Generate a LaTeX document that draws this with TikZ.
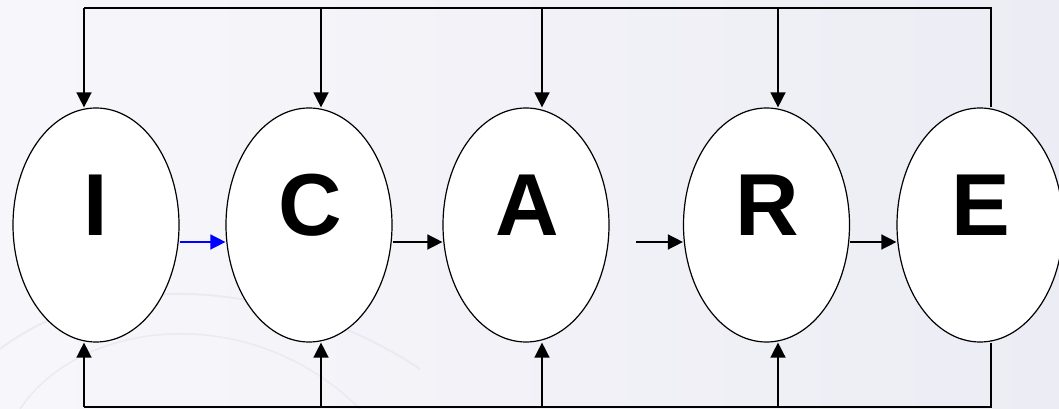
\documentclass[tikz,border=0pt]{standalone}
\usepackage{fontspec}
\setmainfont{Liberation Sans}
\usetikzlibrary{shapes.geometric,arrows.meta,calc}
\definecolor{bgL}{RGB}{247,247,251}
\definecolor{bgR}{RGB}{236,236,244}
\definecolor{swirl}{RGB}{234,234,243}
\tikzset{
  oval/.style={ellipse,draw=black,fill=white,line width=1.2pt,minimum width=166pt,minimum height=234pt,inner sep=0pt},
  letter/.style={anchor=base,inner sep=0pt,font=\fontsize{88}{90}\selectfont\bfseries},
  conn/.style={draw=black,line width=1.5pt},
  arr/.style={conn,-{Triangle[length=15pt,width=15pt]}},
}
\begin{document}
\begin{tikzpicture}[x=1pt,y=1pt]
\shade[left color=bgL,right color=bgR] (0,0) rectangle (1059,409);
\useasboundingbox (0,0) rectangle (1059,409);
% faint background swirls
\draw[swirl,line width=2pt] (0,60) .. controls (120,150) and (300,120) .. (420,40);
\draw[swirl,line width=1.5pt] (20,0) .. controls (80,90) and (250,110) .. (360,0);
% ovals
\node[oval] (I) at (96,184) {};
\node[oval] (C) at (309,184) {};
\node[oval] (A) at (526,184) {};
\node[oval] (R) at (766.5,184) {};
\node[oval] (E) at (980,184) {};
% letters
\node[letter] (tI) at (96,173) {I};
\node[letter] (tC) at (310,173) {C};
\node[letter] (tA) at (527,173) {A};
\node[letter] (tR) at (767,173) {R};
\node[letter] (tE) at (981,173) {E};
% top feedback
\coordinate (nI) at (84,401);
\coordinate (nC) at (321,401);
\coordinate (nA) at (542,401);
\coordinate (nR) at (778,401);
\coordinate (nE) at (991,401);
\draw[conn] (nE |- E.north) -- (nE) -- (nI);
\draw[arr] (nI) -- (nI |- I.north);
\draw[arr] (nC) -- (nC |- C.north);
\draw[arr] (nA) -- (nA |- A.north);
\draw[arr] (nR) -- (nR |- R.north);
% bottom feedback
\coordinate (sI) at (84,2);
\coordinate (sC) at (321,2);
\coordinate (sA) at (542,2);
\coordinate (sR) at (778,2);
\coordinate (sE) at (991,2);
\draw[conn] (sE |- E.south) -- (sE) -- (sI);
\draw[arr] (sI) -- (sI |- I.south);
\draw[arr] (sC) -- (sC |- C.south);
\draw[arr] (sA) -- (sA |- A.south);
\draw[arr] (sR) -- (sR |- R.south);
% forward arrows
\draw[arr,draw=blue,fill=blue] ([yshift=-17pt]I.east) -- ([yshift=-17pt]C.west);
\draw[arr] ([yshift=-17pt]C.east) -- ([yshift=-17pt]A.west);
\coordinate (fA) at (636,167);
\draw[arr] (fA) -- ([yshift=-17pt]R.west);
\draw[arr] ([yshift=-17pt]R.east) -- ([yshift=-17pt]E.west);
\end{tikzpicture}
\end{document}
